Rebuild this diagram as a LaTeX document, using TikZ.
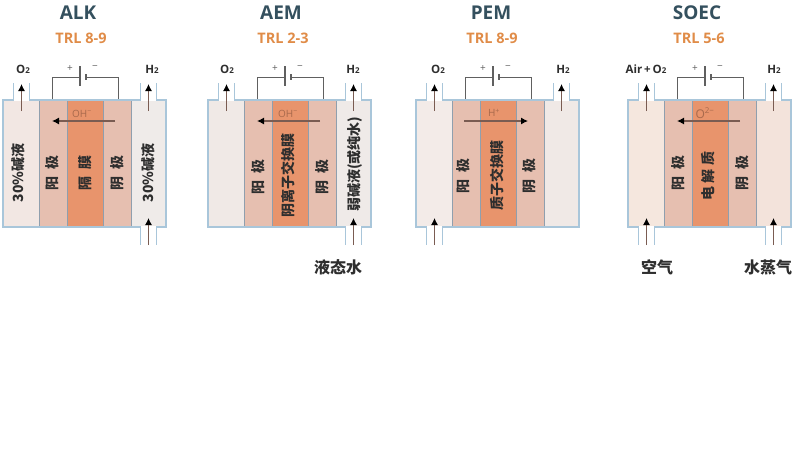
\documentclass[tikz,border=0pt]{standalone}
\usepackage{fontspec}
\setmainfont{Open Sans}
\newfontfamily\cjk{Noto Sans CJK SC}
\usetikzlibrary{arrows.meta}
\definecolor{shell}{HTML}{A9C6DA}
\definecolor{divider}{HTML}{8F9FAE}
\definecolor{electrode}{HTML}{E6BFB0}
\definecolor{membrane}{HTML}{E8946C}
\definecolor{titlecol}{HTML}{34505E}
\definecolor{trlcol}{HTML}{E08C48}
\definecolor{wirecol}{HTML}{606060}
\definecolor{shaftcol}{HTML}{7A5C52}
\definecolor{ioncol}{HTML}{A8694C}
\definecolor{inkcol}{HTML}{2E2E2E}
\tikzset{
  chamber/.style={draw=divider,line width=1pt,inner sep=0pt,minimum height=127pt,anchor=north west},
  outer/.style={draw=shell,line width=1.5pt,line join=miter},
  wire/.style={draw=wirecol,line width=.9pt},
  flow/.style={draw=shaftcol,line width=1.1pt,-{Latex[length=7pt,width=7pt,color=black]}},
  title/.style={font=\fontsize{19}{19}\selectfont\bfseries,text=titlecol,inner sep=0pt},
  trl/.style={font=\fontsize{14.5}{15}\selectfont\bfseries,text=trlcol,inner sep=0pt},
  gas/.style={font=\fontsize{11.5}{12}\selectfont\bfseries,text=inkcol,inner sep=0pt},
  ion/.style={font=\fontsize{10}{10}\selectfont,text=ioncol,inner sep=0pt},
  sign/.style={font=\fontsize{10}{10}\selectfont,text=wirecol,inner sep=0pt},
  layer/.style={font=\cjk\bfseries\fontsize{14}{14}\selectfont,text=inkcol,inner sep=0pt,rotate=90},
  feed/.style={font=\cjk\bfseries\fontsize{16}{16}\selectfont,text=inkcol,inner sep=0pt},
}
% name, left edge, left chamber colour, right chamber colour
\newcommand{\cellbody}[4]{%
  \definecolor{#1-lcc}{HTML}{#3}%
  \definecolor{#1-rcc}{HTML}{#4}%
  \node[chamber,draw=none,fill=#1-lcc,minimum width=36pt] (#1-lc) at (#2,100) {};
  \node[chamber,draw=none,fill=#1-rcc,minimum width=36pt] (#1-rc) at (#2+127,100) {};
  \node[chamber,fill=electrode,minimum width=28pt] (#1-an) at (#2+36,100) {};
  \node[chamber,fill=electrode,minimum width=28pt] (#1-ca) at (#2+100,100) {};
  \node[chamber,fill=membrane,minimum width=36pt] (#1-me) at (#2+64,100) {};
  % battery and wires
  \coordinate (#1-wl) at (#2+49,100);
  \coordinate (#1-wr) at (#2+115,100);
  \coordinate (#1-bl) at (#2+77,77);
  \coordinate (#1-br) at (#2+83,77);
  \draw[wire] (#1-wl) |- (#1-bl);
  \draw[wire] (#1-wr) |- (#1-br);
  \draw[wire,line width=1.2pt] (#2+77,66) -- (#2+77,86);
  \draw[wire,line width=1.5pt] (#2+83,74) -- (#2+83,80);
  \node[sign] (#1-plus) at (#2+67,69) {+};
  \node[sign] (#1-minus) at (#2+92,68) {−};
  % shell with the two top pipes
  \draw[outer] (#2+10.5,83) -- (#2+10.5,100) -- (#2,100) -- (#2,227) -- (#2+163,227)
     -- (#2+163,100) -- (#2+153.5,100) -- (#2+153.5,83);
  \draw[outer] (#2+26.5,83) -- (#2+26.5,100) -- (#2+137.5,100) -- (#2+137.5,83);
  % top flows
  \coordinate (#1-ol) at (#2+18.5,111);
  \coordinate (#1-ot) at (#2+18.5,84);
  \coordinate (#1-hl) at (#2+145.5,111);
  \coordinate (#1-ht) at (#2+145.5,84);
  \draw[flow] (#1-ol) -- (#1-ot);
  \draw[flow] (#1-hl) -- (#1-ht);
}
% bottom pipe: name, left edge, pipe offset
\newcommand{\feedpipe}[3]{%
  \fill[white] (#2+#3-7.5,226) rectangle (#2+#3+7.5,228);
  \draw[outer] (#2+#3-8,227) -- (#2+#3-8,245);
  \draw[outer] (#2+#3+8,227) -- (#2+#3+8,245);
  \coordinate (#1-fs) at (#2+#3,245);
  \coordinate (#1-ft) at (#2+#3,218);
  \draw[flow] (#1-fs) -- (#1-ft);
}
\begin{document}
\begin{tikzpicture}[x=1pt,y=-1pt]
\useasboundingbox (0,0) rectangle (800,471);
% ALK
\cellbody{alk}{3}{F2E7E3}{EFEBE9}
\feedpipe{alkr}{3}{145.5}
\node[title] (alk-t) at (78,13) {ALK};
\node[trl] (alk-r) at (81,38) {TRL 8-9};
\node[gas] (alk-o) at (23,69) {O{\footnotesize 2}};
\node[gas] (alk-h) at (152,69) {H{\footnotesize 2}};
\coordinate (alk-is) at (115,121); \coordinate (alk-ie) at (52,121);
\draw[flow] (alk-is) -- (alk-ie);
\node[ion] (alk-i) at (82,114) {OH\textsuperscript{−}};
\node[layer] (alk-1) at (18,173) {30\%\cjk 碱液};
\node[layer] (alk-2) at (52,173) {阳\ \ 极};
\node[layer] (alk-3) at (85,173) {隔\ \ 膜};
\node[layer] (alk-4) at (117,173) {阴\ \ 极};
\node[layer] (alk-5) at (148,173) {30\%\cjk 碱液};
% AEM
\cellbody{aem}{208}{F0E9E6}{EFEAE8}
\feedpipe{aemr}{208}{145.5}
\node[title] (aem-t) at (281,13) {AEM};
\node[trl] (aem-r) at (283,38) {TRL 2-3};
\node[gas] (aem-o) at (227,69) {O{\footnotesize 2}};
\node[gas] (aem-h) at (353,69) {H{\footnotesize 2}};
\coordinate (aem-is) at (320,121); \coordinate (aem-ie) at (257,121);
\draw[flow] (aem-is) -- (aem-ie);
\node[ion] (aem-i) at (288,114) {OH\textsuperscript{−}};
\node[layer] (aem-1) at (258,177) {阳\ \ 极};
\node[layer] (aem-2) at (288,175) {阴离子交换膜};
\node[layer] (aem-3) at (322,177) {阴\ \ 极};
\node[layer] (aem-4) at (355,164) {弱碱液(或纯水)};
\node[feed] (aem-f) at (338,267) {液态水};
% PEM
\cellbody{pem}{416}{F3EBE8}{F0E9E6}
\feedpipe{peml}{416}{18.5}
\node[title] (pem-t) at (491,13) {PEM};
\node[trl] (pem-r) at (492,38) {TRL 8-9};
\node[gas] (pem-o) at (438,69) {O{\footnotesize 2}};
\node[gas] (pem-h) at (563,69) {H{\footnotesize 2}};
\coordinate (pem-is) at (464,121); \coordinate (pem-ie) at (528,121);
\draw[flow] (pem-is) -- (pem-ie);
\node[ion] (pem-i) at (494,113) {H\textsuperscript{+}};
\node[layer] (pem-1) at (463,176) {阳\ \ 极};
\node[layer] (pem-2) at (497,175) {质子交换膜};
\node[layer] (pem-3) at (529,176) {阴\ \ 极};
% SOEC
\cellbody{soec}{628}{F5E7DE}{F3E3DB}
\feedpipe{soecl}{628}{18.5}
\feedpipe{soecr}{628}{145.5}
\node[title] (soec-t) at (697,13) {SOEC};
\node[trl] (soec-r) at (699,38) {TRL 5-6};
\node[gas] (soec-o) at (646,69) {Air\,+\,O{\footnotesize 2}};
\node[gas] (soec-h) at (774,69) {H{\footnotesize 2}};
\coordinate (soec-is) at (740,121); \coordinate (soec-ie) at (677,121);
\draw[flow] (soec-is) -- (soec-ie);
\node[ion,font=\fontsize{12}{12}\selectfont] (soec-i) at (705,113) {O\textsuperscript{2−}};
\node[layer] (soec-1) at (678,173) {阳\ \ 极};
\node[layer] (soec-2) at (708,176) {电\ 解\ 质};
\node[layer] (soec-3) at (742,173) {阴\ \ 极};
\node[feed] (soec-f1) at (657,267) {空气};
\node[feed] (soec-f2) at (768,267) {水蒸气};
\end{tikzpicture}
\end{document}
